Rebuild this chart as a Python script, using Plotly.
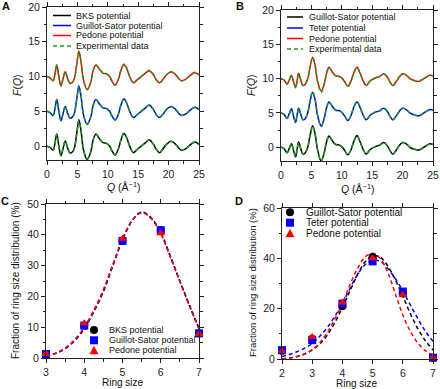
import plotly.graph_objects as go

W, H = 440, 389
FONT = "Arial, Liberation Sans, sans-serif"
AXC = "#222222"

def px(x):
    return x / W

def py(y):
    return 1 - y / H

# ---------------- Panel A data ----------------
q_a = [0, 0.5, 1.0, 1.3, 1.6, 1.95, 2.3, 2.65, 3.0, 3.4, 3.8, 4.2, 4.5, 4.9, 5.25, 5.6, 6.0, 6.6, 7.2, 7.6,
       8.05, 8.6, 9.2, 9.8, 10.3, 10.7, 11.2, 11.7, 12.2, 12.65, 13.1, 13.6, 14.2, 14.8, 15.5, 16.2, 16.8, 17.4, 18.0, 18.5,
       19.0, 19.7, 20.4, 21.0, 21.5, 22.1, 22.8, 23.6, 24.3, 25.0]
exp_a = [0, -0.2, -0.6, 0.3, 1.7, 0.0, -1.35, -0.3, 0.7, -0.3, -1.0, -0.8, -0.3, 1.8, 3.7, 2.2, -0.5, -1.85, -0.8, 0.9,
         1.7, 1.1, 0.5, 0.4, 0.0, -0.7, -1.25, -0.5, 1.0, 1.8, 1.2, 0.0, -0.9, -0.5, 0.0, 0.5, 0.9, 0.4, -0.5, -0.9,
         -0.5, 0.3, 0.7, 0.4, -0.1, -0.6, -0.4, 0.2, 0.6, 0.25]
bks_a = [0, -0.2, -0.6, 0.35, 1.75, 0.0, -1.4, -0.3, 0.75, -0.3, -1.0, -0.8, -0.3, 1.85, 3.8, 2.2, -0.55, -1.95, -0.8, 0.9,
         1.75, 1.1, 0.5, 0.4, 0.0, -0.7, -1.3, -0.5, 1.0, 1.85, 1.2, 0.0, -0.95, -0.5, 0.0, 0.5, 0.9, 0.4, -0.5, -0.95,
         -0.5, 0.3, 0.7, 0.4, -0.1, -0.6, -0.4, 0.2, 0.6, 0.25]
gs_a = [0, -0.2, -0.6, 0.3, 1.7, 0.0, -1.35, -0.3, 0.7, -0.3, -1.0, -0.8, -0.3, 1.8, 3.6, 2.1, -0.5, -1.9, -0.8, 0.9,
        1.7, 1.1, 0.5, 0.4, 0.0, -0.7, -1.25, -0.5, 1.0, 1.8, 1.2, 0.0, -0.9, -0.5, 0.0, 0.5, 0.9, 0.4, -0.5, -0.9,
        -0.5, 0.3, 0.7, 0.4, -0.1, -0.6, -0.4, 0.2, 0.6, 0.25]
ped_a = [0, -0.2, -0.6, 0.3, 1.6, 0.0, -1.3, -0.3, 0.7, -0.3, -1.0, -0.8, -0.3, 1.8, 3.6, 2.1, -0.5, -1.9, -0.8, 0.9,
         1.65, 1.1, 0.5, 0.4, 0.0, -0.7, -1.25, -0.5, 1.0, 1.75, 1.2, 0.0, -0.9, -0.5, 0.0, 0.5, 0.85, 0.4, -0.5, -0.9,
         -0.5, 0.3, 0.65, 0.4, -0.1, -0.6, -0.4, 0.2, 0.55, 0.25]

# ---------------- Panel B data ----------------
q_b = [0, 0.5, 1.0, 1.35, 1.7, 2.05, 2.4, 2.65, 2.9, 3.25, 3.6, 4.0, 4.4, 4.8, 5.2, 5.6, 6.0, 6.6, 7.1, 7.5,
       7.9, 8.4, 9.0, 9.5, 10.0, 10.5, 11.0, 11.5, 12.0, 12.5, 13.0, 13.5, 14.0, 14.7, 15.5, 16.2, 16.9, 17.5, 18.0, 18.4,
       18.9, 19.5, 20.0, 20.6, 21.2, 22.0, 22.7, 23.5, 24.5, 25.0]
exp_b = [0, -0.2, -0.8, -0.2, 0.5, -0.4, -1.35, -0.3, 0.7, -0.2, -1.0, -0.8, 0.0, 1.8, 3.1, 2.0, -0.3, -2.0, -0.8, 0.8,
         1.65, 1.0, 0.4, 0.35, 0.1, -0.5, -1.1, -0.4, 0.9, 1.65, 0.8, -0.3, -1.0, -0.3, 0.1, 0.3, 0.7, 0.2, -0.6, -1.0,
         -0.5, 0.3, 0.7, 0.5, 0.0, -0.3, -0.4, 0.0, 0.5, 0.4]
gs_b = [0, -0.2, -0.8, -0.2, 0.5, -0.4, -1.4, -0.3, 0.75, -0.2, -1.0, -0.8, 0.0, 1.8, 3.15, 2.0, -0.3, -2.0, -0.8, 0.8,
        1.65, 1.0, 0.4, 0.35, 0.1, -0.5, -1.1, -0.4, 0.9, 1.7, 0.8, -0.3, -1.0, -0.3, 0.1, 0.3, 0.7, 0.2, -0.6, -1.0,
        -0.5, 0.3, 0.7, 0.5, 0.0, -0.3, -0.4, 0.0, 0.5, 0.4]
teter_b = [0, -0.2, -0.8, -0.1, 0.6, -0.4, -1.4, -0.3, 0.7, -0.2, -1.0, -0.8, 0.0, 1.8, 3.0, 2.0, -0.3, -1.9, -0.8, 0.8,
           1.6, 1.0, 0.4, 0.35, 0.1, -0.5, -1.1, -0.4, 0.9, 1.6, 0.8, -0.3, -1.0, -0.3, 0.1, 0.3, 0.7, 0.2, -0.6, -1.0,
           -0.5, 0.3, 0.7, 0.5, 0.0, -0.3, -0.4, 0.0, 0.5, 0.4]
ped_b = [0, -0.2, -0.8, -0.2, 0.5, -0.4, -1.3, -0.3, 0.8, -0.2, -1.0, -0.8, 0.0, 1.8, 3.1, 2.0, -0.3, -1.8, -0.8, 0.8,
         1.65, 1.0, 0.4, 0.35, 0.1, -0.5, -1.1, -0.4, 0.9, 1.65, 0.8, -0.3, -1.0, -0.3, 0.1, 0.3, 0.7, 0.2, -0.6, -1.0,
         -0.5, 0.3, 0.7, 0.5, 0.0, -0.3, -0.4, 0.0, 0.5, 0.4]

# ---------------- Panel C data ----------------
ring_c = [3, 4, 5, 6, 7]
bks_c = [1.3, 10.5, 38.0, 41.5, 8.0]
gs_c = [1.3, 10.5, 38.0, 41.5, 8.0]
ped_c = [1.3, 11.3, 38.7, 40.5, 7.7]
fit_x_c = [3, 3.25, 3.5, 3.75, 4, 4.25, 4.5, 4.75, 5, 5.25, 5.5, 5.75, 6, 6.25, 6.5, 6.75, 7]
fit_bks_c = [0.6, 1.5, 3.0, 5.6, 9.5, 15.0, 21.5, 30.0, 38.3, 44.5, 47.4, 45.5, 40.8, 33.0, 25.0, 17.0, 9.5]
fit_gs_c = [0.6, 1.5, 3.1, 5.8, 9.8, 15.3, 22.0, 30.3, 38.5, 44.6, 47.3, 45.4, 40.6, 33.0, 25.0, 17.2, 9.8]
fit_ped_c = [0.6, 1.6, 3.2, 6.0, 10.0, 15.5, 22.2, 30.5, 38.6, 44.6, 47.2, 45.2, 40.4, 32.8, 24.8, 16.9, 9.4]

# ---------------- Panel D data ----------------
ring_d = [2, 3, 4, 5, 6, 7]
gs_d = [3.3, 8.0, 21.0, 40.5, 26.0, 0.5]
teter_d = [3.5, 7.5, 22.0, 38.8, 26.8, 0.5]
ped_d = [3.2, 8.7, 22.5, 40.0, 25.5, 0.5]
fit_x_d = [2, 2.25, 2.5, 2.75, 3, 3.25, 3.5, 3.75, 4, 4.25, 4.5, 4.75, 5, 5.25, 5.5, 5.75, 6, 6.25, 6.5, 6.75, 7]
fit_gs_d = [0.1, 0.4, 1.0, 2.0, 3.6, 6.0, 9.5, 14.5, 20.5, 27.0, 33.5, 38.5, 41.0, 40.5, 37.0, 31.5, 25.0, 18.0, 12.0, 7.2, 3.6]
fit_teter_d = [1.0, 1.8, 2.9, 4.3, 6.1, 9.0, 12.5, 17.0, 22.0, 28.0, 33.5, 37.5, 39.3, 38.8, 36.0, 32.0, 27.0, 21.5, 16.0, 11.0, 7.0]
fit_ped_d = [0.1, 0.4, 1.0, 2.0, 3.6, 6.5, 10.5, 16.0, 22.0, 29.5, 36.0, 40.5, 42.0, 40.0, 34.5, 26.0, 17.5, 11.0, 6.3, 3.3, 1.5]

BLACK, BLUE, RED, GREEN = "#000000", "#0000ff", "#ff0000", "#1a9a1a"
DASH_EXP = "4px,3px"
DASH_FIT = "4px,3px"

fig = go.Figure()

# Panel A curves
for sim, col, off in [(bks_a, BLACK, 0), (gs_a, BLUE, 5), (ped_a, RED, 10)]:
    fig.add_trace(go.Scatter(x=q_a, y=[v + off for v in sim], mode="lines", line=dict(color=col, width=1.5, shape="spline", smoothing=1),
                             xaxis="x", yaxis="y", showlegend=False, hoverinfo="skip"))
    fig.add_trace(go.Scatter(x=q_a, y=[v + off for v in exp_a], mode="lines", line=dict(color=GREEN, width=1.5, dash=DASH_EXP, shape="spline", smoothing=1),
                             xaxis="x", yaxis="y", showlegend=False, hoverinfo="skip"))

# Panel B curves
for sim, col, off in [(gs_b, BLACK, 0), (teter_b, BLUE, 5), (ped_b, RED, 10)]:
    fig.add_trace(go.Scatter(x=q_b, y=[v + off for v in sim], mode="lines", line=dict(color=col, width=1.5, shape="spline", smoothing=1),
                             xaxis="x2", yaxis="y2", showlegend=False, hoverinfo="skip"))
    fig.add_trace(go.Scatter(x=q_b, y=[v + off for v in exp_b], mode="lines", line=dict(color=GREEN, width=1.5, dash=DASH_EXP, shape="spline", smoothing=1),
                             xaxis="x2", yaxis="y2", showlegend=False, hoverinfo="skip"))

# Panel C
for fit, col in [(fit_bks_c, BLACK), (fit_gs_c, BLUE), (fit_ped_c, RED)]:
    fig.add_trace(go.Scatter(x=fit_x_c, y=fit, mode="lines", line=dict(color=col, width=1.5, dash=DASH_FIT, shape="spline"),
                             xaxis="x3", yaxis="y3", showlegend=False, hoverinfo="skip"))
for vals, col, sym in [(bks_c, BLACK, "circle"), (gs_c, BLUE, "square"), (ped_c, RED, "triangle-up")]:
    fig.add_trace(go.Scatter(x=ring_c, y=vals, mode="markers", marker=dict(color=col, size=8, symbol=sym, line=dict(width=0)),
                             cliponaxis=False, xaxis="x3", yaxis="y3", showlegend=False, hoverinfo="skip"))

# Panel D
for fit, col in [(fit_gs_d, BLACK), (fit_teter_d, BLUE), (fit_ped_d, RED)]:
    fig.add_trace(go.Scatter(x=fit_x_d, y=fit, mode="lines", line=dict(color=col, width=1.5, dash=DASH_FIT, shape="spline"),
                             xaxis="x4", yaxis="y4", showlegend=False, hoverinfo="skip"))
for vals, col, sym in [(gs_d, BLACK, "circle"), (teter_d, BLUE, "square"), (ped_d, RED, "triangle-up")]:
    fig.add_trace(go.Scatter(x=ring_d, y=vals, mode="markers", marker=dict(color=col, size=8, symbol=sym, line=dict(width=0)),
                             cliponaxis=False, xaxis="x4", yaxis="y4", showlegend=False, hoverinfo="skip"))


def axis(domain, rng, dtick, minor_dtick, anchor, tick0=0):
    d = dict(domain=domain, range=rng, dtick=dtick, tick0=tick0, anchor=anchor,
             showline=True, linecolor=AXC, linewidth=1, mirror="allticks",
             ticks="outside", ticklen=4, tickwidth=1, tickcolor=AXC,
             showgrid=False, zeroline=False, automargin=False,
             tickfont=dict(family=FONT, size=10.5, color=AXC))
    if minor_dtick:
        d["minor"] = dict(ticks="outside", ticklen=2.5, dtick=minor_dtick, tick0=tick0, tickcolor=AXC, showgrid=False)
    return d

fig.update_layout(
    width=W, height=H, margin=dict(l=0, r=0, t=0, b=0),
    paper_bgcolor="white", plot_bgcolor="white", showlegend=False,
    xaxis=axis([px(47), px(199)], [0, 25], 5, 2.5, "y"),
    yaxis=axis([py(160), py(7)], [-2, 20], 5, 2.5, "x"),
    xaxis2=axis([px(281), px(433)], [0, 25], 5, 2.5, "y2"),
    yaxis2=axis([py(161), py(10)], [-2, 20], 5, 2.5, "x2"),
    xaxis3=axis([px(46), px(199)], [3, 7], 1, 0.5, "y3", tick0=3),
    yaxis3=axis([py(358), py(204)], [0, 50], 10, 5, "x3"),
    xaxis4=axis([px(282), px(433)], [2, 7], 1, None, "y4", tick0=2),
    yaxis4=axis([py(359), py(208)], [0, 60], 20, 10, "x4"),
)

ann = []
shapes = []

def text(x, y, s, size=10.5, angle=0, xanchor="center", bold=False):
    ann.append(dict(x=px(x), y=py(y), xref="paper", yref="paper", text=("<b>%s</b>" % s) if bold else s,
                    showarrow=False, textangle=angle, xanchor=xanchor, yanchor="middle",
                    font=dict(family=FONT, size=size, color="#111111")))

# Panel letters
text(6, 6, "A", 11, bold=True)
text(240, 6, "B", 11, bold=True)
text(5, 201, "C", 11, bold=True)
text(239, 201, "D", 11, bold=True)

# Axis titles
text(17, 85, "<i>F</i>(<i>Q</i>)", 10.5, -90)
text(123, 186, "<i>Q</i> (Å<sup>−1</sup>)", 10.5)
text(251, 85, "<i>F</i>(<i>Q</i>)", 10.5, -90)
text(357, 188, "<i>Q</i> (Å<sup>−1</sup>)", 10.5)
text(15, 281, "Fraction of ring size distribution (%)", 10, -90)
text(123, 382, "Ring size", 10)
text(252, 283, "Fraction of ring size distribution (%)", 9.5, -90)
text(357, 383, "Ring size", 10)

# Line legends (A, B)
def line_legend(x0, x1, xt, ys, entries, size=9):
    for y, (label, col, dash) in zip(ys, entries):
        shapes.append(dict(type="line", xref="paper", yref="paper", x0=px(x0), x1=px(x1), y0=py(y), y1=py(y),
                           line=dict(color=col, width=1.5, dash=dash)))
        text(xt, y, label, size, xanchor="left")

line_legend(53, 71, 74, [15.5, 25.5, 35.5, 46],
            [("BKS potential", BLACK, "solid"), ("Guillot-Sator potential", BLUE, "solid"),
             ("Pedone potential", RED, "solid"), ("Experimental data", GREEN, DASH_EXP)])
line_legend(287, 303, 307, [17, 28, 38.5, 49],
            [("Guillot-Sator potential", BLACK, "solid"), ("Teter potential", BLUE, "solid"),
             ("Pedone potential", RED, "solid"), ("Experimental data", GREEN, DASH_EXP)])

# Marker legends (C, D)
def marker_legend(xm, xt, ys, entries, size=9, r=4):
    for y, (label, col, sym) in zip(ys, entries):
        if sym == "circle":
            shapes.append(dict(type="circle", xref="paper", yref="paper", x0=px(xm - r), x1=px(xm + r),
                               y0=py(y + r), y1=py(y - r), fillcolor=col, line=dict(width=0)))
        elif sym == "square":
            shapes.append(dict(type="rect", xref="paper", yref="paper", x0=px(xm - r), x1=px(xm + r),
                               y0=py(y + r), y1=py(y - r), fillcolor=col, line=dict(width=0)))
        else:
            path = "M %f %f L %f %f L %f %f Z" % (px(xm - r - 0.5), py(y + r), px(xm + r + 0.5), py(y + r), px(xm), py(y - r - 0.5))
            shapes.append(dict(type="path", xref="paper", yref="paper", path=path, fillcolor=col, line=dict(width=0)))
        text(xt, y, label, size, xanchor="left")

marker_legend(94, 107, [330, 340.3, 350.3],
              [("BKS potential", BLACK, "circle"), ("Guillot-Sator potential", BLUE, "square"),
               ("Pedone potential", RED, "triangle")], size=9)
marker_legend(290, 304, [212.3, 222.7, 233.3],
              [("Guillot-Sator potential", BLACK, "circle"), ("Teter potential", BLUE, "square"),
               ("Pedone potential", RED, "triangle")], size=10)

fig.update_layout(annotations=ann, shapes=shapes)
fig.write_html("out.html", config={"displayModeBar": False},
               post_script="document.body.style.margin='0';document.body.style.overflow='hidden';")
